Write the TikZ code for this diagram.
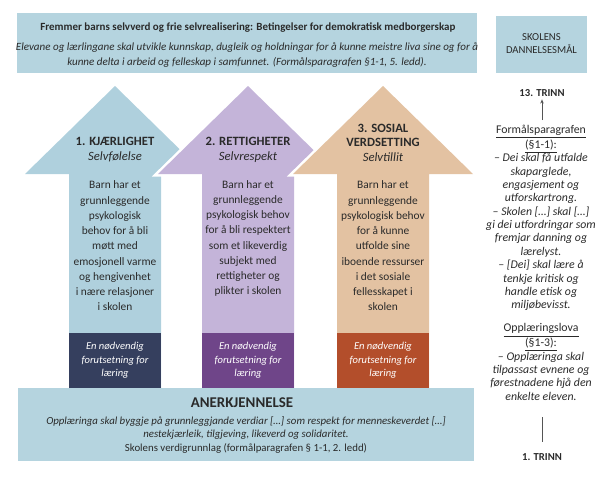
\documentclass[tikz,border=0pt]{standalone}
\usepackage{fontspec}
\setmainfont{Carlito}
\usetikzlibrary{arrows.meta}
\definecolor{boxblue}{HTML}{B5D4DF}
\definecolor{arrblue}{HTML}{AFD0DD}
\definecolor{arrlilac}{HTML}{C4B4D9}
\definecolor{arrtan}{HTML}{E3C2A2}
\definecolor{darknavy}{HTML}{353F5E}
\definecolor{darkpurple}{HTML}{6F4589}
\definecolor{darkrust}{HTML}{B34E2B}
\definecolor{txt}{HTML}{2A2A2A}
\begin{document}
\begin{tikzpicture}[x=0.025cm,y=-0.025cm,
  every node/.style={text=txt,inner sep=0pt,outer sep=0pt},
  halo/.style={draw=white,fill=white,line width=3.6pt,line join=miter},
  bodytext/.style={align=center,font=\fontsize{8.1}{10.85}\selectfont},
  headtext/.style={align=center,font=\fontsize{9}{10.6}\selectfont},
  darkbox/.style={minimum width=2.3cm,minimum height=1.375cm,align=center,text=white,
     font=\fontsize{7.5}{9.6}\selectfont\itshape},
  sidetext/.style={align=center,font=\fontsize{8.4}{9.5}\selectfont\itshape},
  conn/.style={draw=txt!80,line width=0.5pt}
]
\useasboundingbox (0,0) rectangle (600,483);

% top panel
\fill[boxblue] (17,13) rectangle (477,73);
\node[font=\fontsize{7.8}{9}\selectfont\bfseries] (toptitle) at (248,28)
  {Fremmer barns selvverd og frie selvrealisering: Betingelser for demokratisk medborgerskap};
\node[align=center,font=\fontsize{7.85}{10}\selectfont\itshape] (topsub) at (247,55)
  {Elevane og lærlingane skal utvikle kunnskap, dugleik og holdningar for å kunne meistre liva sine og for å\\
   kunne delta i arbeid og felleskap i samfunnet. (Formålsparagrafen §1-1, 5. ledd).};

% right panel
\fill[boxblue] (496,16) rectangle (587,73);
\node[align=center,font=\fontsize{7.6}{9.25}\selectfont] (maal) at (541.5,43.5) {SKOLENS\\DANNELSESMÅL};

% arrow 1
\fill[arrblue] (115,86) -- (205,174) -- (161,174) -- (161,388) -- (69,388) -- (69,174) -- (25,174) -- cycle;
% arrow 2
\path[halo] (248,86) -- (338,174) -- (294,174) -- (294,388) -- (202,388) -- (202,174) -- (158,174) -- cycle;
\fill[arrlilac] (248,86) -- (338,174) -- (294,174) -- (294,388) -- (202,388) -- (202,174) -- (158,174) -- cycle;
% arrow 3
\path[halo] (383,86) -- (473,174) -- (429,174) -- (429,388) -- (337,388) -- (337,174) -- (293,174) -- cycle;
\fill[arrtan] (383,86) -- (473,174) -- (429,174) -- (429,388) -- (337,388) -- (337,174) -- (293,174) -- cycle;

% headings
\node[headtext] (h1) at (115,149.5) {\textbf{1. KJÆRLIGHET}\\\textit{Selvfølelse}};
\node[headtext] (h2) at (248,149.5) {\textbf{2. RETTIGHETER}\\\textit{Selvrespekt}};
\node[headtext,font=\fontsize{9}{10.3}\selectfont] (h3) at (383,142.5) {\textbf{3. SOSIAL}\\\textbf{VERDSETTING}\\\textit{Selvtillit}};

% bodies
\node[bodytext] (b1) at (115,246) {Barn har et\\grunnleggende\\psykologisk\\behov for å bli\\møtt med\\emosjonell varme\\og hengivenhet\\i nære relasjoner\\i skolen};
\node[bodytext] (b2) at (248,238.5) {Barn har et\\grunnleggende\\psykologisk behov\\for å bli respektert\\som et likeverdig\\subjekt med\\rettigheter og\\plikter i skolen};
\node[bodytext] (b3) at (383,246) {Barn har et\\grunnleggende\\psykologisk behov\\for å kunne\\utfolde sine\\iboende ressurser\\i det sosiale\\fellesskapet i\\skolen};

% dark boxes
\node[darkbox,fill=darknavy] (d1) at (115,360.5) {En nødvendig\\forutsetning for\\læring};
\node[darkbox,fill=darkpurple] (d2) at (248,360.5) {En nødvendig\\forutsetning for\\læring};
\node[darkbox,fill=darkrust] (d3) at (383,360.5) {En nødvendig\\forutsetning for\\læring};

% bottom panel
\fill[boxblue] (18,388) rectangle (474,461);
\node[font=\fontsize{10.6}{12}\selectfont\bfseries] (anerk) at (242,403) {ANERKJENNELSE};
\node[align=center,font=\fontsize{7.7}{9.2}\selectfont\itshape] (botsub) at (246,428)
  {Opplæringa skal byggje på grunnleggjande verdiar […] som respekt for menneskeverdet […]\\
   nestekjærleik, tilgjeving, likeverd og solidaritet.};
\node[font=\fontsize{7.7}{9}\selectfont] (botsrc) at (246,448) {Skolens verdigrunnlag (formålparagrafen § 1-1, 2. ledd)};

% right column
\node[font=\fontsize{7.6}{9}\selectfont\bfseries] (t13) at (542,93) {13. TRINN};
\node[sidetext] (formal) at (541,218)
  {\upshape\underline{Formålsparagrafen}\\
   \upshape\underline{(§1-1):}\\
   – Dei skal få utfalde\\
   skaparglede,\\
   engasjement og\\
   utforskartrong.\\
   – Skolen […] skal […]\\
   gi dei utfordringar som\\
   fremjar danning og\\
   lærelyst.\\
   – [Dei] skal lære å\\
   tenkje kritisk og\\
   handle etisk og\\
   miljøbevisst.};
\node[sidetext] (oppl) at (541,362)
  {\upshape\underline{Opplæringslova}\\
   \upshape\underline{(§1-3):}\\
   – Opplæringa skal\\
   tilpassast evnene og\\
   førestnadene hjå den\\
   enkelte eleven.};
\node[font=\fontsize{7.6}{9}\selectfont\bfseries] (t1) at (542,457) {1. TRINN};

\coordinate (a13) at (542,120);
\draw[conn,-{Stealth[length=3pt,width=2.5pt]}] (a13) -- (t13.south) [shorten >=2pt];
\coordinate (l1) at (542,417);
\draw[conn,shorten >=8pt] (l1) -- (t1.north);
\end{tikzpicture}
\end{document}
